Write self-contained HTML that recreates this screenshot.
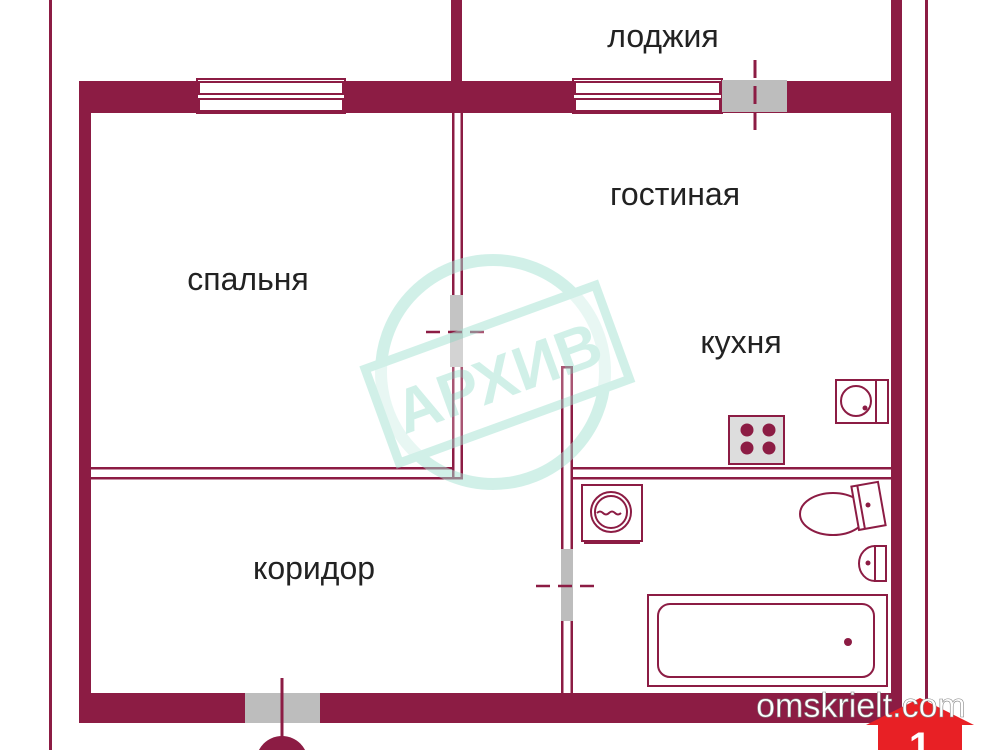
<!DOCTYPE html>
<html><head><meta charset="utf-8"><style>
html,body{margin:0;padding:0;background:#fff;width:1000px;height:750px;overflow:hidden;}
svg{display:block}
text{font-family:"Liberation Sans",sans-serif;}
</style></head><body>
<svg width="1000" height="750" viewBox="0 0 1000 750" xmlns="http://www.w3.org/2000/svg" overflow="hidden">
<rect width="1000" height="750" fill="#fff"/>
<g fill="#8c1c44">
 <rect x="49" y="0" width="3" height="750"/>
 <rect x="925" y="0" width="3" height="750"/>
 <rect x="451" y="0" width="11" height="85"/>
 <rect x="80" y="81" width="822" height="32"/>
 <rect x="79" y="81" width="12" height="642"/>
 <rect x="891" y="0" width="11" height="723"/>
 <rect x="79" y="693" width="823" height="30"/>
 <rect x="452" y="113" width="2.5" height="366"/>
 <rect x="460.5" y="113" width="2.5" height="366"/>
 <rect x="91" y="467" width="363" height="2.5"/>
 <rect x="91" y="477" width="372" height="2.5"/>
 <rect x="561" y="366" width="2.5" height="327"/>
 <rect x="570.5" y="366" width="2.5" height="327"/>
 <rect x="561" y="366" width="12" height="2.5"/>
 <rect x="572" y="467" width="320" height="2.5"/>
 <rect x="572" y="477" width="320" height="2.5"/>
</g>
<g fill="#fff" stroke="#8c1c44" stroke-width="2">
 <rect x="197" y="79" width="148" height="34"/>
 <rect x="199" y="82" width="144" height="12"/>
 <rect x="199" y="99" width="144" height="12"/>
 <rect x="573" y="79" width="149" height="34"/>
 <rect x="575" y="82" width="145" height="12"/>
 <rect x="575" y="99" width="145" height="12"/>
</g>
<rect x="722" y="80" width="65" height="32" fill="#bdbdbd"/>
<line x1="755" y1="60" x2="755" y2="132" stroke="#8c1c44" stroke-width="3" stroke-dasharray="18,8"/>
<rect x="450" y="295" width="13" height="72" fill="#c4c4c4"/>
<line x1="426" y1="332" x2="486" y2="332" stroke="#8c1c44" stroke-width="2.5" stroke-dasharray="14,8"/>
<rect x="561" y="549" width="12" height="72" fill="#bdbdbd"/>
<line x1="536" y1="586" x2="596" y2="586" stroke="#8c1c44" stroke-width="2.5" stroke-dasharray="14,8"/>
<rect x="245" y="693" width="75" height="30" fill="#bdbdbd"/>
<line x1="282" y1="678" x2="282" y2="750" stroke="#8c1c44" stroke-width="3"/>
<circle cx="282" cy="762" r="26" fill="#8c1c44"/>
<rect x="729" y="416" width="55" height="48" fill="#ddd" stroke="#8c1c44" stroke-width="2"/>
<g fill="#8c1c44"><circle cx="747" cy="430" r="6.5"/><circle cx="769" cy="430" r="6.5"/><circle cx="747" cy="448" r="6.5"/><circle cx="769" cy="448" r="6.5"/></g>
<g fill="none" stroke="#8c1c44" stroke-width="2">
 <rect x="836" y="380" width="52" height="43"/>
 <line x1="876" y1="380" x2="876" y2="423"/>
 <circle cx="856" cy="401" r="15"/>
</g>
<circle cx="865" cy="408" r="2.5" fill="#8c1c44"/>
<g fill="none" stroke="#8c1c44" stroke-width="2">
 <rect x="582" y="485" width="60" height="56"/>
 <circle cx="611" cy="512" r="20"/>
 <circle cx="611" cy="512" r="16"/>
 <path d="M597 513 q3 -3 6 0 t6 0 t6 0 t6 0"/>
 <line x1="584" y1="543" x2="640" y2="543"/>
</g>
<g fill="none" stroke="#8c1c44" stroke-width="2">
 <ellipse cx="833" cy="514" rx="33" ry="21"/>
 <g transform="rotate(-10 868 506)"><rect x="855" y="484" width="27" height="44" fill="#fff"/><line x1="861" y1="484" x2="861" y2="528"/></g>
</g>
<circle cx="868" cy="505" r="2.5" fill="#8c1c44"/>
<g fill="none" stroke="#8c1c44" stroke-width="2">
 <path d="M875 546 a16 17.5 0 0 0 0 35 z"/>
 <rect x="875" y="546" width="11" height="35"/>
</g>
<circle cx="868" cy="563" r="2.5" fill="#8c1c44"/>
<g fill="none" stroke="#8c1c44" stroke-width="2">
 <rect x="648" y="595" width="239" height="91"/>
 <rect x="658" y="604" width="216" height="73" rx="12"/>
</g>
<circle cx="848" cy="642" r="4" fill="#8c1c44"/>
<g fill="#222" font-size="32" text-anchor="middle">
 <text x="663" y="47">лоджия</text>
 <text x="675" y="205">гостиная</text>
 <text x="248" y="290">спальня</text>
 <text x="741" y="353">кухня</text>
 <text x="314" y="579">коридор</text>
</g>
<g opacity="0.5" fill="none" stroke="#a5e3d3">
 <circle cx="493" cy="372" r="112" stroke-width="12"/>
 <g transform="rotate(-20 495 375)">
  <rect x="375" y="325" width="245" height="100" stroke-width="9" fill="#fff" fill-opacity="0.5"/>
  <text x="497" y="400" font-size="62" font-weight="bold" text-anchor="middle" fill="#a5e3d3" stroke="none">АРХИВ</text>
 </g>
</g>
<path d="M878 750 L878 725 L866 725 L920 698 L974 725 L962 725 L962 750 Z" fill="#e82025"/>
<text x="920" y="760" font-size="40" font-weight="bold" fill="#fff" text-anchor="middle">1</text>
<text x="861" y="717" font-size="34" fill="#fff" text-anchor="middle" stroke="#888" stroke-width="0.6">omskrielt.com</text>
</svg>
</body></html>
